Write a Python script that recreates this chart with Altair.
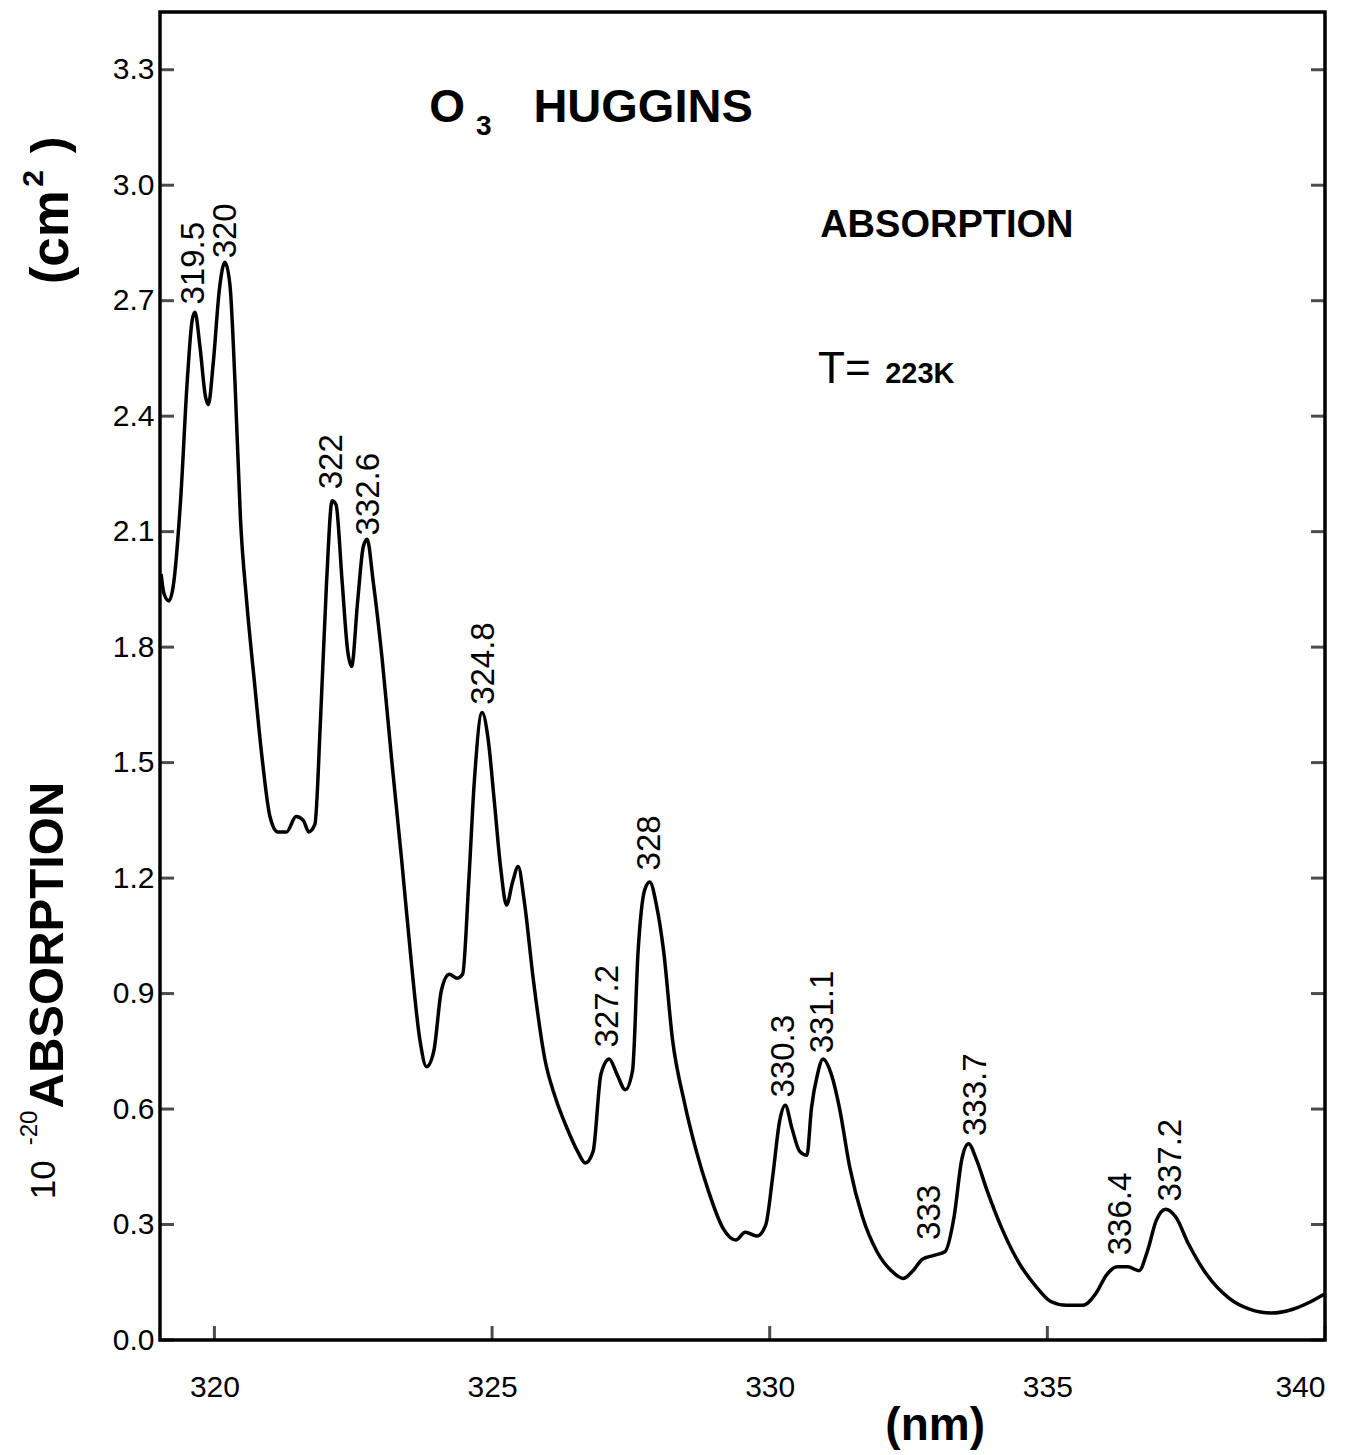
import altair as alt
import pandas as pd

# ---- curve (wavelength nm, absorption 1e-20 cm^2) ----
wavelength = [319.04, 319.09, 319.18, 319.26, 319.39, 319.51, 319.60, 319.65, 319.74, 319.84,
              319.89, 319.98, 320.09, 320.19, 320.28, 320.37, 320.47, 320.58, 320.72, 320.86,
              321.00, 321.14, 321.30, 321.47, 321.60, 321.70, 321.81, 321.91, 322.02, 322.12,
              322.19, 322.30, 322.40, 322.47, 322.58, 322.68, 322.75, 322.86, 323.02, 323.19,
              323.37, 323.54, 323.70, 323.82, 323.95, 324.09, 324.23, 324.37, 324.47, 324.58,
              324.68, 324.82, 324.93, 325.04, 325.16, 325.26, 325.37, 325.47, 325.58, 325.74,
              325.95, 326.14, 326.35, 326.54, 326.68, 326.82, 326.96, 327.11, 327.25, 327.40,
              327.53, 327.63, 327.75, 327.84, 327.96, 328.09, 328.25, 328.46, 328.68, 328.89,
              329.16, 329.39, 329.56, 329.77, 329.93, 330.05, 330.18, 330.28, 330.40, 330.54,
              330.67, 330.75, 330.86, 330.96, 331.11, 331.26, 331.44, 331.67, 331.93, 332.19,
              332.40, 332.58, 332.75, 332.96, 333.16, 333.32, 333.46, 333.58, 333.72, 333.91,
              334.18, 334.49, 334.79, 335.06, 335.35, 335.64, 335.87, 336.07, 336.26, 336.45,
              336.65, 336.80, 336.96, 337.13, 337.31, 337.54, 337.87, 338.26, 338.64, 339.03,
              339.42, 339.75, 340.00]
absorption = [1.99, 1.94, 1.92, 1.96, 2.18, 2.49, 2.65, 2.67, 2.58, 2.45,
              2.43, 2.54, 2.73, 2.80, 2.74, 2.49, 2.13, 1.92, 1.71, 1.51,
              1.36, 1.32, 1.32, 1.36, 1.35, 1.32, 1.34, 1.61, 1.97, 2.18,
              2.17, 1.97, 1.79, 1.75, 1.92, 2.06, 2.08, 1.97, 1.77, 1.51,
              1.25, 0.99, 0.78, 0.71, 0.75, 0.91, 0.95, 0.94, 0.95, 1.19,
              1.45, 1.63, 1.56, 1.40, 1.22, 1.13, 1.19, 1.23, 1.14, 0.94,
              0.73, 0.63, 0.55, 0.49, 0.46, 0.49, 0.69, 0.73, 0.69, 0.65,
              0.70, 1.01, 1.17, 1.19, 1.13, 1.01, 0.78, 0.62, 0.49, 0.39,
              0.29, 0.26, 0.28, 0.27, 0.30, 0.42, 0.57, 0.61, 0.55, 0.49,
              0.48, 0.60, 0.69, 0.73, 0.69, 0.60, 0.45, 0.32, 0.23, 0.18,
              0.16, 0.18, 0.21, 0.22, 0.23, 0.32, 0.47, 0.51, 0.47, 0.39,
              0.29, 0.20, 0.14, 0.10, 0.09, 0.09, 0.12, 0.17, 0.19, 0.19,
              0.18, 0.23, 0.31, 0.34, 0.32, 0.25, 0.17, 0.11, 0.08, 0.07,
              0.08, 0.10, 0.12]

# ---- peak labels ----
peak_labels = ["319.5", "320", "322", "332.6", "324.8", "327.2", "328", "330.3",
               "331.1", "333", "333.7", "336.4", "337.2"]
peak_x = [319.63, 320.21, 322.12, 322.79, 324.86, 327.09, 327.84, 330.26,
          330.96, 332.88, 333.72, 336.32, 337.23]
peak_y = [2.69, 2.81, 2.21, 2.09, 1.65, 0.76, 1.22, 0.63,
          0.745, 0.26, 0.53, 0.22, 0.36]

# ---- axes ----
x_ticks = [320, 325, 330, 335, 340]
y_ticks = [0.0, 0.3, 0.6, 0.9, 1.2, 1.5, 1.8, 2.1, 2.4, 2.7, 3.0, 3.3]
x_domain = [319.02, 340.0]
y_domain = [0.0, 3.45]

# ---- annotation texts: text, x (nm), y, size, weight, angle, align, baseline ----
ann_text = ["O", "3", "HUGGINS", "ABSORPTION", "T=", "223K", "(nm)",
            "10", "-20", "ABSORPTION", "(cm", "2", ")"]
ann_x = [324.19, 324.85, 327.72, 333.19, 330.87, 332.08, 332.98,
         316.93, 316.68, 317.00, 317.08, 316.75, 317.06]
ann_y = [3.20, 3.15, 3.20, 2.894, 2.486, 2.486, -0.223,
         0.416, 0.551, 1.026, 2.865, 3.018, 3.105]
ann_size = [46, 28, 47, 38, 44, 29, 46, 35, 24, 49, 53, 30, 50]
ann_weight = ["bold", "bold", "bold", "bold", "normal", "bold", "bold",
              "normal", "normal", "bold", "bold", "bold", "bold"]
ann_angle = [0, 0, 0, 0, 0, 0, 0, 270, 270, 270, 270, 270, 270]
ann_align = ["center", "center", "center", "center", "left", "left", "center",
             "center", "center", "center", "center", "center", "center"]
ann_base = ["middle", "middle", "middle", "middle", "alphabetic", "alphabetic", "middle",
            "middle", "middle", "middle", "middle", "middle", "middle"]

FONT = "Liberation Sans"
W, H = 1165, 1328

xs = alt.Scale(domain=x_domain, nice=False, zero=False)
ys = alt.Scale(domain=y_domain, nice=False, zero=False)
ax_x = alt.Axis(values=x_ticks, format="d", ticks=False, tickSize=0, domain=False, grid=False,
                labelFontSize=30, labelFont=FONT, labelColor="black", labelPadding=32,
                labelFlush=True, title=None)
ax_y = alt.Axis(values=y_ticks, format=".1f", ticks=False, tickSize=0, domain=False, grid=False,
                labelFontSize=30, labelFont=FONT, labelColor="black", labelPadding=6,
                title=None)


def X(f):
    return alt.X(f, scale=xs, axis=ax_x)


def Y(f):
    return alt.Y(f, scale=ys, axis=ax_y)


curve_df = pd.DataFrame({"nm": wavelength, "abs": absorption})
line = alt.Chart(curve_df).mark_line(
    color="black", strokeWidth=3.5, interpolate="monotone", clip=True
).encode(x=X("nm:Q"), y=Y("abs:Q"))

ytick_df = pd.DataFrame({"v": y_ticks})
xtick_df = pd.DataFrame({"v": x_ticks})
left_ticks = alt.Chart(ytick_df).mark_tick(color="black", thickness=3, size=14, orient="horizontal").encode(
    y=Y("v:Q"), x=alt.value(7))
right_ticks = alt.Chart(ytick_df).mark_tick(color="black", thickness=3, size=14, orient="horizontal").encode(
    y=Y("v:Q"), x=alt.value(W - 7))
bottom_ticks = alt.Chart(xtick_df).mark_tick(color="black", thickness=3, size=14, orient="vertical").encode(
    x=X("v:Q"), y=alt.value(H - 7))

peaks_df = pd.DataFrame({"label": peak_labels, "x": peak_x, "y": peak_y})
peak_text = alt.Chart(peaks_df).mark_text(
    angle=270, align="left", baseline="middle", fontSize=33, font=FONT, color="black"
).encode(x=X("x:Q"), y=Y("y:Q"), text="label:N")

layers = [line, left_ticks, right_ticks, bottom_ticks, peak_text]
for i in range(len(ann_text)):
    d = pd.DataFrame({"t": [ann_text[i]], "x": [ann_x[i]], "y": [ann_y[i]]})
    layers.append(
        alt.Chart(d).mark_text(
            fontSize=ann_size[i], fontWeight=ann_weight[i], angle=ann_angle[i],
            align=ann_align[i], baseline=ann_base[i], font=FONT, color="black"
        ).encode(x=X("x:Q"), y=Y("y:Q"), text="t:N")
    )

chart = alt.layer(*layers).properties(
    width=W, height=H,
    autosize=alt.AutoSizeParams(type="none"),
    padding={"left": 160, "top": 12, "right": 39, "bottom": 115},
    background="white",
).configure_view(stroke="black", strokeWidth=3.5)

chart.save("out.html", embed_options={"renderer": "svg", "actions": False})
